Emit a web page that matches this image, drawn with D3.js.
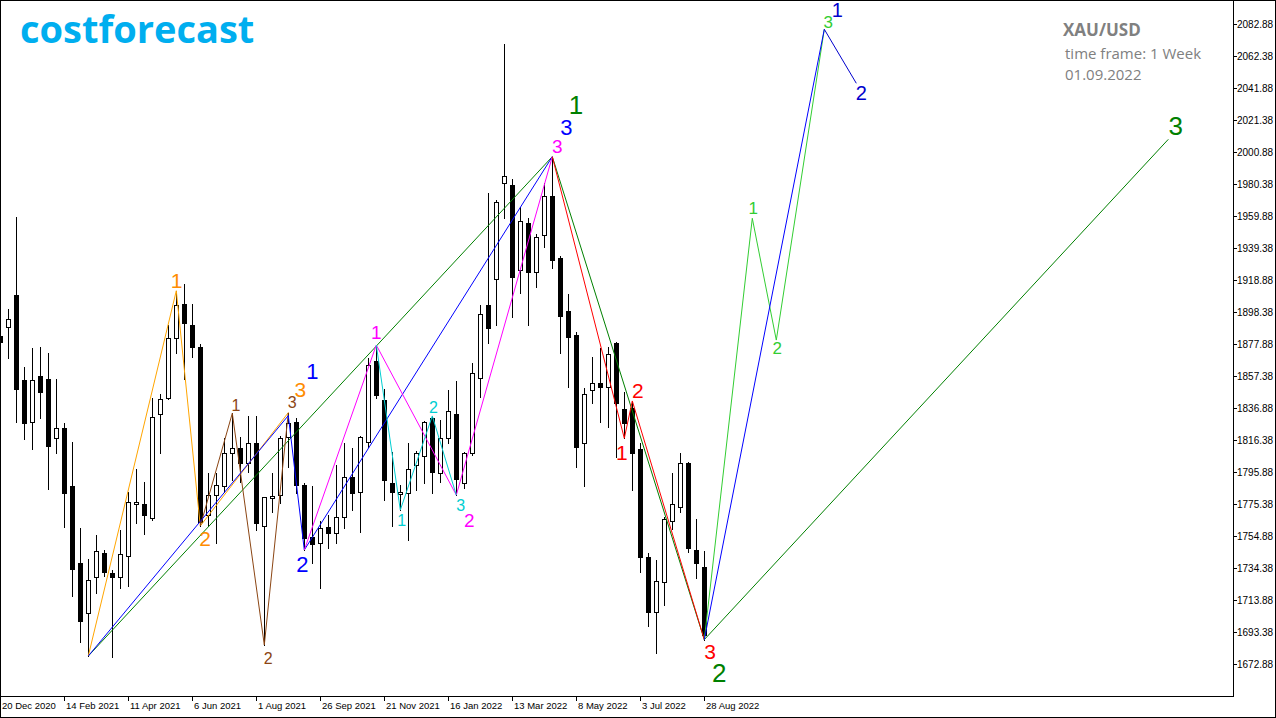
<!DOCTYPE html>
<html><head><meta charset="utf-8">
<script src="https://cdn.jsdelivr.net/npm/d3@7/dist/d3.min.js"></script>
<style>html,body{margin:0;padding:0;background:#fff;overflow:hidden}</style>
</head><body>
<svg id="chart" width="1276" height="718"></svg>
<script>
// ---------- DATA (weekly XAU/USD, week index 0 = 20 Dec 2020) ----------
const openP  = [1883.0,1888.6,1909.3,1854.8,1828.1,1857.6,1855.3,1817.5,1824.3,1786.9,
                1737.4,1705.8,1728.4,1743.8,1731.4,1728.4,1742.3,1775.2,1775.4,1766.6,
                1832.9,1843.1,1881.5,1903.3,1890.1,1876.2,1768.3,1781.1,1786.9,1807.9,
                1811.1,1801.8,1814.3,1761.3,1779.0,1781.1,1818.5,1828.1,1787.6,1754.4,
                1750.2,1760.5,1756.6,1766.9,1792.5,1783.3,1815.3,1867.0,1842.0,1789.0,
                1781.8,1782.6,1800.4,1806.1,1830.3,1795.4,1817.5,1832.9,1788.6,1808.3,
                1855.9,1902.9,1919.3,1980.8,1979.7,1925.3,1955.2,1923.8,1947.7,1972.7,
                1932.8,1899.2,1883.7,1814.3,1848.4,1852.7,1850.5,1878.7,1836.1,1836.7,
                1810.4,1741.2,1706.4,1725.6,1764.7,1773.3,1801.5,1745.9,1735.2];
const highP  = [1889.4,1900.1,1959.1,1863.3,1875.1,1875.8,1871.9,1855.3,1827.1,1815.3,
                1759.8,1740.0,1755.5,1745.9,1733.1,1758.7,1783.3,1797.6,1789.7,1843.1,
                1845.9,1890.1,1912.0,1916.1,1903.5,1877.9,1795.0,1795.0,1817.5,1833.5,
                1818.5,1831.8,1831.8,1780.1,1795.4,1819.0,1833.9,1830.3,1788.6,1786.9,
                1764.7,1768.3,1800.4,1814.3,1811.1,1819.0,1868.7,1877.2,1848.9,1808.9,
                1787.6,1814.3,1809.5,1828.8,1831.8,1829.2,1848.4,1854.4,1808.9,1865.9,
                1902.9,1974.4,1970.1,2070.1,1983.4,1965.8,1958.4,1948.4,1981.2,1997.9,
                1934.3,1909.9,1885.8,1849.5,1869.4,1875.1,1875.8,1879.4,1847.3,1841.4,
                1814.3,1744.2,1739.5,1767.2,1795.0,1807.9,1802.4,1765.6,1745.5];
const lowP   = [1872.8,1868.7,1828.1,1816.8,1810.4,1830.3,1784.8,1807.9,1760.5,1716.5,
                1687.2,1678.0,1718.6,1729.3,1677.6,1721.4,1722.8,1763.4,1756.0,1765.1,
                1808.3,1842.6,1872.3,1855.3,1869.4,1761.3,1761.3,1750.2,1783.3,1790.8,
                1789.7,1796.1,1758.7,1685.1,1770.5,1776.2,1799.3,1782.2,1745.9,1737.4,
                1721.6,1747.2,1750.2,1759.8,1771.5,1757.6,1812.1,1843.1,1777.9,1761.3,
                1771.5,1752.3,1784.4,1789.0,1782.2,1789.7,1814.3,1781.1,1785.4,1806.8,
                1844.1,1878.3,1890.1,1958.4,1895.0,1910.4,1890.1,1914.6,1939.8,1926.4,
                1871.9,1850.2,1798.9,1786.9,1840.3,1828.1,1824.9,1805.7,1817.5,1784.4,
                1732.0,1697.2,1680.1,1710.7,1759.2,1770.5,1744.8,1727.8,1688.5];
const closeP = [1879.2,1893.7,1848.9,1827.5,1854.8,1847.3,1812.5,1823.9,1782.6,1733.6,
                1700.6,1726.7,1745.5,1732.0,1728.8,1743.3,1776.5,1776.5,1768.3,1830.9,
                1842.5,1881.5,1902.9,1891.1,1875.8,1764.0,1781.1,1787.6,1807.9,1811.5,
                1801.5,1814.3,1763.0,1779.7,1780.7,1817.5,1827.5,1787.6,1753.4,1749.8,
                1759.8,1756.6,1767.2,1792.5,1782.6,1818.1,1864.4,1845.2,1790.8,1783.3,
                1783.3,1797.6,1807.9,1828.1,1796.1,1817.5,1835.0,1791.2,1807.9,1859.1,
                1896.9,1887.9,1969.0,1985.5,1920.6,1956.9,1923.8,1946.2,1972.9,1931.7,
                1896.0,1882.2,1811.7,1845.7,1852.7,1850.5,1871.3,1840.3,1827.1,1808.3,
                1741.6,1706.4,1726.2,1765.6,1775.4,1801.5,1747.0,1737.8,1691.5];

const xTickIndex  = [0,8,16,24,32,40,48,56,64,72,80,88];
const xTickLabels = ["20 Dec 2020","14 Feb 2021","11 Apr 2021","6 Jun 2021","1 Aug 2021",
                     "26 Sep 2021","21 Nov 2021","16 Jan 2022","13 Mar 2022","8 May 2022",
                     "3 Jul 2022","28 Aug 2022"];
const yTickLabels = ["2082.88","2062.38","2041.88","2021.38","2000.88","1980.38","1959.88",
                     "1939.38","1918.88","1898.38","1877.88","1857.38","1836.88","1816.38",
                     "1795.88","1775.38","1754.88","1734.38","1713.88","1693.38","1672.88"];

// wave vertices: [week index, price]
const orangeWave  = [[11,1678.0],[22,1912.0],[25,1761.3],[36,1833.9]];
const brownWave   = [[25,1761.3],[29,1833.5],[33,1685.1],[36,1833.9]];
const blueWave    = [[11,1678.0],[36,1832.0],[38,1745.9],[69,1997.9]];
const greenWave   = [[11,1678.0],[69,1997.9],[88,1688.5],[146,2009.0]];
const magentaWave = [[38,1745.9],[47,1877.2],[57,1781.1],[69,1997.9]];
const cyanWave    = [[47,1877.2],[50,1771.5],[54,1831.8],[57,1781.1]];
const redWave     = [[69,1997.9],[78,1817.5],[79,1841.4],[88,1688.5]];
const limeWave    = [[88,1688.5],[94,1958.4],[97,1880.4],[103,2079.5]];
const blueProj    = [[88,1688.5],[103,2079.5]];
const navyProj    = [[103,2079.5],[107,2044.9]];

const labelWave  = ["orange","orange","orange","brown","brown","brown","blue","blue","blue",
                    "magenta","magenta","magenta","cyan","cyan","cyan","green","green","green",
                    "red","red","red","lime","lime","lime","navy","navy"];
const labelText  = ["1","2","3","1","2","3","1","2","3","1","2","3","1","2","3","1","2","3",
                    "1","2","3","1","2","3","1","2"];
const labelIdx   = [22.05,25.59,37.5,29.46,33.5,36.5,39.0,37.75,70.75,47.0,58.63,69.63,
                    50.18,54.13,57.55,71.95,89.88,146.93,77.68,79.68,88.71,94.13,97.13,103.5,
                    104.63,107.63];
const labelPrice = [1918.4,1753.4,1848.5,1838.2,1676.5,1840.5,1860.0,1736.8,2016.8,1885.1,
                    1765.1,2004.7,1764.7,1837.3,1774.7,2031.0,1667.1,2017.7,1808.5,1848.0,
                    1680.8,1964.5,1874.7,2083.8,2091.6,2038.4];

// ---------- STYLE ----------
const waveStyle = {
  orange:{line:"#FFA500", text:"#FF8C00", size:21},
  brown:{line:"#8B4513", text:"#8B4513", size:16},
  blue:{line:"#0000FF", text:"#0000FF", size:22},
  magenta:{line:"#FF00FF", text:"#FF00FF", size:19},
  cyan:{line:"#00CED1", text:"#00CED1", size:16},
  green:{line:"#008000", text:"#008000", size:26},
  red:{line:"#FF0000", text:"#FF0000", size:21},
  lime:{line:"#32CD32", text:"#32CD32", size:17},
  navy:{line:"#0000CD", text:"#0000CD", size:20}
};

const W = 1276, H = 718, plotR = 1233, plotB = 696;
const svg = d3.select("#chart");
const x = d3.scaleLinear().domain([0, 100]).range([0.3, 800.3]);
const y = d3.scaleLinear().domain([1652.38, 2098.26]).range([plotB, 0]);

svg.append("rect").attr("width", W).attr("height", H).attr("fill", "#fff");
svg.append("defs").append("clipPath").attr("id", "plotclip")
  .append("rect").attr("x", 0).attr("y", 0).attr("width", plotR).attr("height", plotB);

// logo
svg.append("text").attr("x", 20).attr("y", 43)
  .attr("font-family", "'Open Sans', sans-serif").attr("font-weight", 700)
  .attr("font-size", 38).attr("fill", "#00AEEF").text("costforecast");

// info text
const info = svg.append("g").attr("font-family", "'Open Sans', sans-serif").attr("fill", "#808080");
info.append("text").attr("x", 1063).attr("y", 36).attr("font-weight", 700).attr("font-size", 17).text("XAU/USD");
info.append("text").attr("x", 1065).attr("y", 58.5).attr("font-size", 15).text("time frame: 1 Week");
info.append("text").attr("x", 1065).attr("y", 79.5).attr("font-size", 15).text("01.09.2022");

const plot = svg.append("g").attr("clip-path", "url(#plotclip)");

// candles
const candles = d3.range(openP.length).map(i => ({i, o: openP[i], h: highP[i], l: lowP[i], c: closeP[i]}));
const cg = plot.append("g").selectAll("g").data(candles).join("g");
const cxOf = d => Math.round(x(d.i)) + 0.5;
cg.append("line")
  .attr("x1", cxOf).attr("x2", cxOf)
  .attr("y1", d => Math.round(y(d.h))).attr("y2", d => Math.round(y(d.l)) + 1)
  .attr("stroke", "#000").attr("stroke-width", 1);
cg.append("rect")
  .attr("x", d => cxOf(d) - 2)
  .attr("y", d => Math.round(y(Math.max(d.o, d.c))) + 0.5)
  .attr("width", 4)
  .attr("height", d => Math.max(1, Math.round(y(Math.min(d.o, d.c))) - Math.round(y(Math.max(d.o, d.c)))))
  .attr("fill", d => d.c >= d.o ? "#fff" : "#000")
  .attr("stroke", "#000").attr("stroke-width", 1).attr("shape-rendering", "crispEdges");

// wave lines
const lineGen = d3.line().x(d => x(d[0])).y(d => y(d[1]));
const waves = [
  [greenWave, "green"], [orangeWave, "orange"], [brownWave, "brown"], [blueWave, "blue"],
  [magentaWave, "magenta"], [cyanWave, "cyan"], [redWave, "red"], [limeWave, "lime"],
  [blueProj, "blue"], [navyProj, "navy"]
];
plot.append("g").selectAll("path").data(waves).join("path")
  .attr("d", d => lineGen(d[0]))
  .attr("fill", "none").attr("stroke", d => waveStyle[d[1]].line).attr("stroke-width", 1);

// wave labels
plot.append("g").selectAll("text").data(labelText.map((t, k) => ({t, w: labelWave[k], i: labelIdx[k], p: labelPrice[k]})))
  .join("text")
  .attr("x", d => x(d.i)).attr("y", d => y(d.p))
  .attr("text-anchor", "middle").attr("dominant-baseline", "central")
  .attr("font-family", "'Liberation Sans', Arial, sans-serif")
  .attr("font-size", d => waveStyle[d.w].size)
  .attr("fill", d => waveStyle[d.w].text)
  .text(d => d.t);

// frames
svg.append("rect").attr("x", 0.5).attr("y", 0.5).attr("width", W - 1.5).attr("height", H - 1.5)
  .attr("fill", "none").attr("stroke", "#000").attr("shape-rendering", "crispEdges");
svg.append("line").attr("x1", plotR + 0.5).attr("x2", plotR + 0.5).attr("y1", 0).attr("y2", plotB + 1)
  .attr("stroke", "#000").attr("shape-rendering", "crispEdges");
svg.append("line").attr("x1", 0).attr("x2", plotR + 1).attr("y1", plotB + 0.5).attr("y2", plotB + 0.5)
  .attr("stroke", "#000").attr("shape-rendering", "crispEdges");

// y axis
const ya = svg.append("g").attr("font-family", "'Liberation Sans', Arial, sans-serif").attr("font-size", 10).attr("fill", "#000");
yTickLabels.forEach(s => {
  const yy = Math.round(y(+s)) + 0.5;
  ya.append("line").attr("x1", plotR + 1).attr("x2", plotR + 4).attr("y1", yy).attr("y2", yy)
    .attr("stroke", "#000").attr("shape-rendering", "crispEdges");
  ya.append("text").attr("x", plotR + 4).attr("y", yy).attr("dominant-baseline", "central").text(s);
});

// x axis
const xa = svg.append("g").attr("font-family", "'Liberation Sans', Arial, sans-serif").attr("font-size", 9.5).attr("fill", "#000");
xTickIndex.forEach((ti, k) => {
  const xx = Math.round(x(ti)) + 0.5;
  xa.append("line").attr("x1", xx).attr("x2", xx).attr("y1", plotB + 1).attr("y2", plotB + 5)
    .attr("stroke", "#000").attr("shape-rendering", "crispEdges");
  xa.append("text").attr("x", xx + 1.5).attr("y", 709).text(xTickLabels[k]);
});
</script>
</body></html>
